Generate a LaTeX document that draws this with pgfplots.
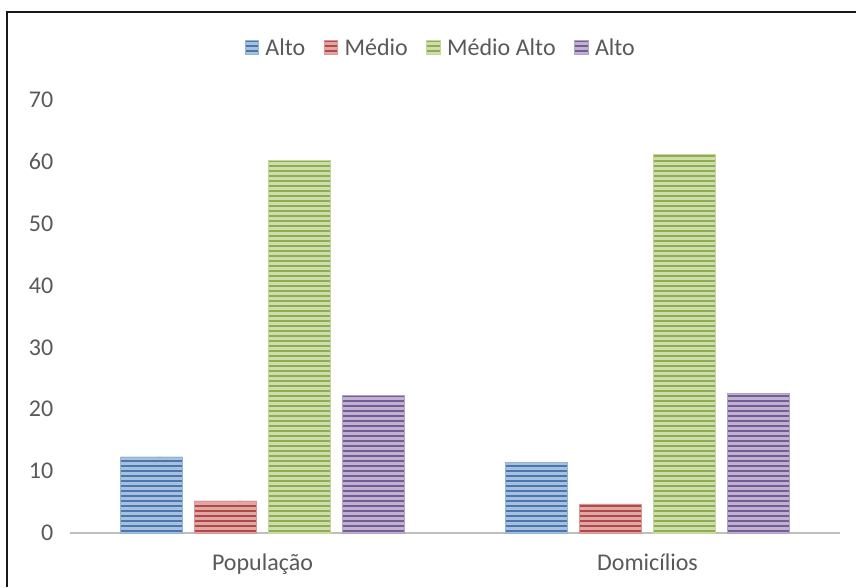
\documentclass[border=0pt]{standalone}
\usepackage{fontspec}
\setmainfont{Carlito}
\usepackage{pgfplots}
\pgfplotsset{compat=1.18}
\usetikzlibrary{patterns}
\pgfdeclarepatternformonly{hstripes}{\pgfqpoint{-1pt}{0pt}}{\pgfqpoint{61pt}{3.75pt}}{\pgfqpoint{60pt}{3.75pt}}{%
  \pgfpathrectangle{\pgfqpoint{-1pt}{0pt}}{\pgfqpoint{62pt}{1.7pt}}\pgfusepath{fill}}
\definecolor{txt}{HTML}{595959}
\definecolor{cA}{HTML}{4F81BD}
\definecolor{cB}{HTML}{C0504D}
\definecolor{cC}{HTML}{9BBB59}
\definecolor{cD}{HTML}{8064A2}
\pgfplotstableread{
x A B C D
0 12.3 5.2 60.3 22.2
1 11.4 4.7 61.2 22.6
}\datatable
\tikzset{
  stripebar/.style={
    draw=#1!60!white, line width=0.5pt,
    fill=#1!50!white,
    postaction={pattern=hstripes, pattern color=#1!92!black}
  }
}
\begin{document}
\begin{tikzpicture}
\useasboundingbox (0,0) rectangle (642pt,440.25pt);
\draw[line width=1.5pt, black!90] (5.25pt,0) -- (5.25pt,431.6pt) -- (642pt,431.6pt);
\begin{axis}[
  at={(52.5pt,40.5pt)}, anchor=south west,
  scale only axis, width=577.5pt, height=324.75pt,
  ybar=9pt, bar width=46.5pt,
  xmin=-0.5, xmax=1.5, ymin=0, ymax=70,
  xtick={0,1}, xticklabels={População,Domicílios},
  ytick={0,10,...,70},
  major tick length=0pt,
  axis x line*=bottom, axis y line*=left,
  x axis line style={draw=black!25, line width=2.2pt, -},
  y axis line style={draw=none},
  tick label style={font=\fontsize{18}{21}\selectfont, text=txt},
  yticklabel style={xshift=-9pt},
  xticklabel style={yshift=-12pt},
  /pgf/number format/assume math mode=true,
  legend style={at={(0.482,1)}, anchor=center, yshift=39pt, draw=none,
    font=\fontsize{18}{21}\selectfont, text=txt,
    /tikz/every odd column/.append style={column sep=3pt},
    /tikz/every even column/.append style={column sep=12pt}},
  legend columns=4,
  legend image code/.code={\draw[#1] (0pt,-4.5pt) rectangle (10pt,5.5pt);},
]
\addplot[stripebar=cA] table[x=x,y=A] {\datatable};
\addplot[stripebar=cB] table[x=x,y=B] {\datatable};
\addplot[stripebar=cC] table[x=x,y=C] {\datatable};
\addplot[stripebar=cD] table[x=x,y=D] {\datatable};
\legend{Alto,Médio,Médio Alto,Alto}
\end{axis}
\end{tikzpicture}
\end{document}
